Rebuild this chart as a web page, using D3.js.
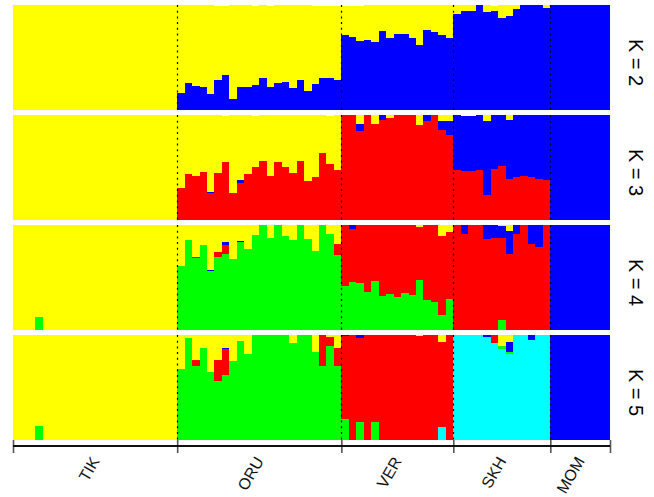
<!DOCTYPE html>
<html>
<head>
<meta charset="utf-8">
<script src="https://cdn.jsdelivr.net/npm/d3@7"></script>
<style>
  html, body { margin: 0; padding: 0; background: #fff; }
  svg { display: block; }
  text { font-family: "Liberation Sans", Arial, Helvetica, sans-serif; }
</style>
</head>
<body>
<svg id="chart" width="654" height="497"></svg>
<script>
// Populations in plotting order and number of individuals in each
const populations = ["TIK", "ORU", "VER", "SKH", "MOM"];
const popSizes = [22, 22, 15, 13, 8];
const kValues = [2, 3, 4, 5];
const kLabels = ["K = 2", "K = 3", "K = 4", "K = 5"];

const clusterColors = {
  cyan: "#00FFFF", green: "#00FF00", red: "#FF0000", blue: "#0000FF", yellow: "#FFFF00"
};

// ---- Membership coefficients (Q), one value per individual ----
// K = 2
const k2Blue = [
  0,0,0,0,0,0,0,0,0,0,0,0,0,0,0,0,0,0,0,0,0,0,
  0.162,0.257,0.229,0.219,0.152,0.286,0.333,0.105,0.219,0.219,0.238,0.305,0.219,0.257,0.267,0.210,0.286,0.181,0.248,0.305,0.305,0.286,
  0.714,0.695,0.657,0.667,0.648,0.752,0.686,0.724,0.724,0.686,0.619,0.762,0.743,0.714,0.686,
  0.914,0.943,0.943,1,0.933,0.943,0.876,0.895,0.962,1,1,1,0.971,
  1,1,1,1,1,1,1,1
];
const k2Yellow = [
  1,1,1,1,1,1,1,1,1,1,1,1,1,1,1,1,1,1,1,1,1,1,
  0.838,0.743,0.771,0.781,0.848,0.704,0.657,0.895,0.781,0.781,0.752,0.695,0.771,0.743,0.733,0.790,0.714,0.819,0.747,0.690,0.690,0.709,
  0.276,0.300,0.333,0.333,0.352,0.248,0.314,0.276,0.276,0.314,0.381,0.238,0.257,0.286,0.314,
  0.086,0.057,0.057,0,0.067,0.047,0.124,0.105,0.038,0,0,0,0.029,
  0,0,0,0,0,0,0,0
];

// K = 3
const k3Red = [
  0,0,0,0,0,0,0,0,0,0,0,0,0,0,0,0,0,0,0,0,0,0,
  0.305,0.438,0.419,0.457,0.257,0.448,0.552,0.257,0.352,0.438,0.505,0.562,0.419,0.552,0.505,0.448,0.562,0.371,0.410,0.638,0.533,0.476,
  1,1,0.848,1,0.914,0.952,0.971,1,1,1,0.905,0.943,1,0.857,0.810,
  0.476,0.467,0.467,0.476,0.238,0.486,0.514,0.390,0.410,0.419,0.410,0.390,0.381,
  0,0,0,0,0,0,0,0
];
const k3Blue = [
  0,0,0,0,0,0,0,0,0,0,0,0,0,0,0,0,0,0,0,0,0,0,
  0,0,0,0,0.010,0,0,0,0.029,0,0,0,0,0,0,0,0,0,0,0,0,0,
  0,0,0.067,0,0,0.048,0,0,0,0,0,0.057,0,0.086,0.133,
  0.524,0.523,0.523,0.524,0.705,0.514,0.486,0.562,0.590,0.581,0.590,0.610,0.619,
  1,1,1,1,1,1,1,1
];
const k3Yellow = [
  1,1,1,1,1,1,1,1,1,1,1,1,1,1,1,1,1,1,1,1,1,1,
  0.695,0.562,0.581,0.543,0.733,0.552,0.438,0.743,0.619,0.562,0.485,0.438,0.581,0.448,0.495,0.552,0.438,0.629,0.590,0.362,0.457,0.524,
  0,0,0.086,0,0.086,0,0.029,0,0,0,0.095,0,0,0.057,0.057,
  0,0,0,0,0.057,0,0,0.048,0,0,0,0,0,
  0,0,0,0,0,0,0,0
];

// K = 4
const k4Green = [
  0,0,0,0.124,0,0,0,0,0,0,0,0,0,0,0,0,0,0,0,0,0,0,
  0.610,0.857,0.686,0.810,0.562,0.695,0.724,0.676,0.838,0.771,0.905,1,0.876,1,0.895,0.857,1,0.867,0.752,1,0.914,0.714,
  0.419,0.457,0.448,0.362,0.467,0.324,0.343,0.314,0.352,0.333,0.476,0.286,0.267,0.143,0.295,
  0,0,0,0,0,0,0.095,0,0,0,0,0,0,
  0,0,0,0,0,0,0,0
];
const k4Red = [
  0,0,0,0,0,0,0,0,0,0,0,0,0,0,0,0,0,0,0,0,0,0,
  0,0,0.010,0,0,0.048,0.086,0,0,0,0,0,0,0,0,0,0,0,0,0,0,0.105,
  0.581,0.505,0.552,0.638,0.533,0.676,0.657,0.686,0.648,0.667,0.505,0.714,0.733,0.752,0.638,
  1,0.914,1,1,0.867,0.876,0.781,0.727,0.914,1,0.819,0.790,1,
  0,0,0,0,0,0,0,0
];
const k4Blue = [
  0,0,0,0,0,0,0,0,0,0,0,0,0,0,0,0,0,0,0,0,0,0,
  0,0,0,0,0.010,0,0.029,0,0.010,0,0,0,0,0,0,0,0,0,0,0,0,0,
  0,0.038,0,0,0,0,0,0,0,0,0,0,0,0,0,
  0,0.086,0,0,0.133,0.124,0.114,0.216,0.086,0,0.181,0.210,0,
  1,1,1,1,1,1,1,1
];
const k4Yellow = [
  1,1,1,0.876,1,1,1,1,1,1,1,1,1,1,1,1,1,1,1,1,1,1,
  0.390,0.143,0.304,0.190,0.428,0.257,0.161,0.324,0.152,0.229,0.095,0,0.124,0,0.105,0.143,0,0.133,0.248,0,0.086,0.181,
  0,0,0,0,0,0,0,0,0,0,0.019,0,0,0.105,0.067,
  0,0,0,0,0,0,0.010,0.057,0,0,0,0,0,
  0,0,0,0,0,0,0,0
];

// K = 5
const k5Cyan = [
  0,0,0,0,0,0,0,0,0,0,0,0,0,0,0,0,0,0,0,0,0,0,
  0,0,0,0,0,0,0,0,0,0,0,0,0,0,0,0,0,0,0,0,0,0,
  0,0,0,0,0,0,0,0,0,0,0,0,0,0.124,0,
  1,1,1,1,0.981,0.924,0.866,0.819,1,1,0.952,1,1,
  0,0,0,0,0,0,0,0
];
const k5Green = [
  0,0,0,0.130,0,0,0,0,0,0,0,0,0,0,0,0,0,0,0,0,0,0,
  0.676,0.971,0.705,0.876,0.648,0.562,0.619,0.752,0.943,0.819,1,1,1,1,1,0.924,1,1,0.838,0.705,0.895,0.705,
  0.200,0,0.171,0,0.171,0,0,0,0,0,0,0,0,0,0,
  0,0,0,0,0,0,0.029,0.019,0,0,0,0,0,
  0,0,0,0,0,0,0,0
];
const k5Red = [
  0,0,0,0,0,0,0,0,0,0,0,0,0,0,0,0,0,0,0,0,0,0,
  0,0,0.057,0,0,0.200,0.248,0,0,0,0,0,0,0,0,0,0,0,0,0.295,0.086,0.171,
  0.790,1,0.800,1,0.829,1,1,1,1,1,0.990,1,1,0.809,1,
  0,0,0,0,0,0.076,0,0,0,0,0,0,0,
  0,0,0,0,0,0,0,0
];
const k5Blue = [
  0,0,0,0,0,0,0,0,0,0,0,0,0,0,0,0,0,0,0,0,0,0,
  0,0,0,0,0,0,0.010,0,0,0,0,0,0,0,0,0,0,0,0,0,0,0,
  0.010,0,0.029,0,0,0,0,0,0,0,0,0,0,0,0,
  0,0,0,0,0.019,0,0,0.095,0,0,0.048,0,0,
  1,1,1,1,1,1,1,1
];
const k5Yellow = [
  1,1,1,0.870,1,1,1,1,1,1,1,1,1,1,1,1,1,1,1,1,1,1,
  0.324,0.029,0.238,0.124,0.352,0.238,0.123,0.248,0.057,0.181,0,0,0,0,0,0.076,0,0,0.162,0,0.019,0.124,
  0,0,0,0,0,0,0,0,0,0,0.010,0,0,0.067,0,
  0,0,0,0,0,0,0.105,0.067,0,0,0,0,0,
  0,0,0,0,0,0,0,0
];

// Cluster series for each K, listed from the bottom of the stack upward
const panels = [
  { k: 2, series: { blue: k2Blue, yellow: k2Yellow } },
  { k: 3, series: { red: k3Red, blue: k3Blue, yellow: k3Yellow } },
  { k: 4, series: { green: k4Green, red: k4Red, blue: k4Blue, yellow: k4Yellow } },
  { k: 5, series: { cyan: k5Cyan, green: k5Green, red: k5Red, blue: k5Blue, yellow: k5Yellow } }
];

// ---- Layout ----
const nInd = d3.sum(popSizes);
const plotLeft = 13, plotRight = 610;
const panelTop0 = 5, panelH = 105, panelGap = 5;

const svg = d3.select("#chart");
const x = d3.scaleLinear().domain([0, nInd]).range([plotLeft, plotRight]);

// cumulative population boundaries (in individual index)
const bounds = [0];
popSizes.forEach(s => bounds.push(bounds[bounds.length - 1] + s));

panels.forEach((panel, pi) => {
  const top = panelTop0 + pi * (panelH + panelGap);
  const y = d3.scaleLinear().domain([0, 1]).range([top + panelH, top]);
  const keys = Object.keys(panel.series);
  const rows = d3.range(nInd).map(i => {
    const r = { idx: i };
    keys.forEach(k => { r[k] = panel.series[k][i]; });
    return r;
  });
  const stacked = d3.stack().keys(keys)(rows);

  const g = svg.append("g").attr("class", "panel");
  g.selectAll("g.layer")
    .data(stacked)
    .join("g")
    .attr("class", "layer")
    .attr("fill", d => clusterColors[d.key])
    .selectAll("rect")
    .data(d => d.filter(s => s[1] - s[0] > 0))
    .join("rect")
    .attr("shape-rendering", "crispEdges")
    .attr("x", d => x(d.data.idx))
    .attr("width", d => x(d.data.idx + 1) - x(d.data.idx))
    .attr("y", d => y(d[1]))
    .attr("height", d => y(d[0]) - y(d[1]));

  // dotted separators between populations
  g.selectAll("line.sep")
    .data(bounds.slice(1, -1))
    .join("line")
    .attr("class", "sep")
    .attr("x1", d => Math.round(x(d)) + 0.5)
    .attr("x2", d => Math.round(x(d)) + 0.5)
    .attr("y1", top)
    .attr("y2", top + panelH)
    .attr("stroke", "#000")
    .attr("stroke-width", 1.2)
    .attr("stroke-dasharray", "2,3.7");

  // K label on the right, reading downward
  svg.append("text")
    .attr("transform", `translate(629,${top + panelH / 2 + 5}) rotate(90)`)
    .attr("text-anchor", "middle")
    .attr("font-size", 20)
    .attr("fill", "#000")
    .text(kLabels[pi]);
});

// ---- Population axis ----
const axisY = 440;
const axis = d3.axisBottom(x)
  .tickValues(bounds)
  .tickSize(13)
  .tickFormat("");
const axG = svg.append("g").attr("transform", `translate(0,${axisY})`).call(axis);
axG.select(".domain").remove();
axG.selectAll(".tick line").attr("stroke", "#555").attr("stroke-width", 1.6);

svg.append("line")
  .attr("x1", x(0)).attr("x2", x(nInd))
  .attr("y1", 446).attr("y2", 446)
  .attr("stroke", "#111").attr("stroke-width", 2);

// rotated population names
populations.forEach((p, i) => {
  const cx = x((bounds[i] + bounds[i + 1]) / 2) + 5;
  svg.append("text")
    .attr("transform", `translate(${cx},461) rotate(-60)`)
    .attr("text-anchor", "end")
    .attr("font-size", 16)
    .attr("fill", "#111")
    .text(p);
});
</script>
</body>
</html>
